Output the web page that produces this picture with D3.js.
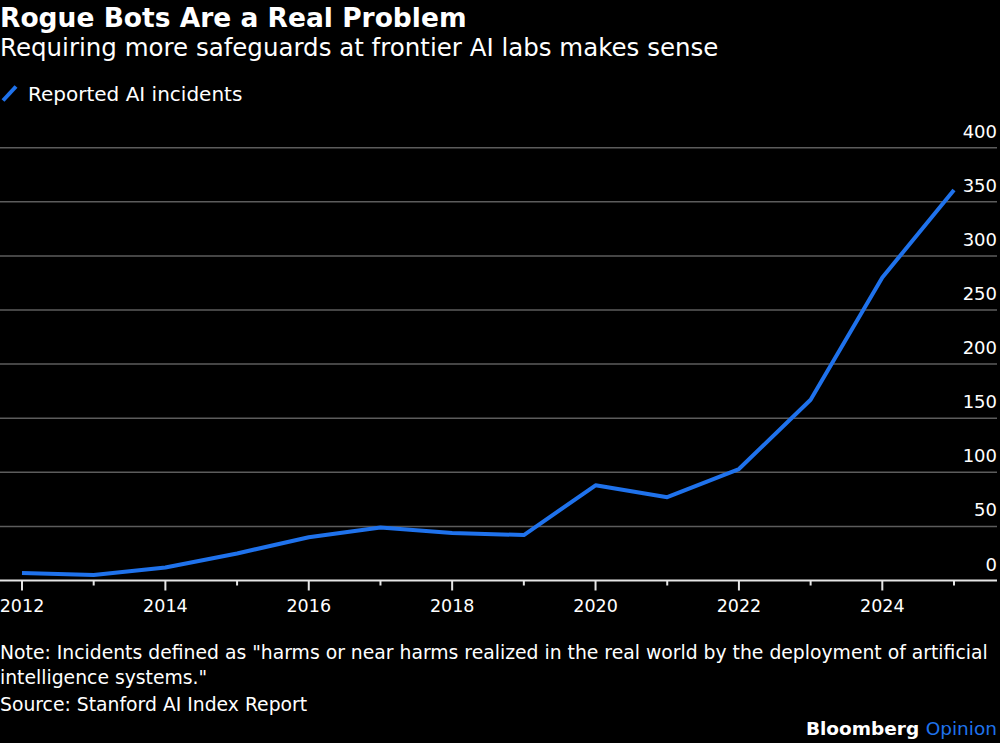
<!DOCTYPE html>
<html>
<head>
<meta charset="utf-8">
<script src="https://cdn.jsdelivr.net/npm/d3@7"></script>
<style>
  html, body { margin: 0; padding: 0; background: #000; }
  svg { display: block; }
  text { font-family: "DejaVu Sans", "Noto Sans", sans-serif; fill: #fff; }
</style>
</head>
<body>
<div id="chart"></div>
<script>
// values
var years = [2012, 2013, 2014, 2015, 2016, 2017, 2018, 2019, 2020, 2021, 2022, 2023, 2024, 2025];
var incidents = [7, 5, 12, 25, 40, 49, 44, 42, 88, 77, 103, 167, 280, 361];
var yTicks = [0, 50, 100, 150, 200, 250, 300, 350, 400];
var xLabelYears = [2012, 2014, 2016, 2018, 2020, 2022, 2024];

var width = 1000, height = 743;
var blue = "#1f72ec";

var svg = d3.select("#chart")
  .append("svg")
  .attr("width", width)
  .attr("height", height);

// scales
var x = d3.scaleLinear()
  .domain([2012, 2025])
  .range([22, 954]);

var y = d3.scaleLinear()
  .domain([0, 400])
  .range([580.5, 147.7]);

var plotRight = 997;

// header
svg.append("text")
  .attr("x", 0).attr("y", 26.5)
  .style("font-size", "26.5px").style("font-weight", "700")
  .text("Rogue Bots Are a Real Problem");

svg.append("text")
  .attr("x", 0).attr("y", 56)
  .style("font-size", "24.5px")
  .text("Requiring more safeguards at frontier AI labs makes sense");

// legend
svg.append("line")
  .attr("x1", 3).attr("y1", 100.5)
  .attr("x2", 16).attr("y2", 86.5)
  .attr("stroke", blue).attr("stroke-width", 4);

svg.append("text")
  .attr("x", 28).attr("y", 101)
  .style("font-size", "20px")
  .text("Reported AI incidents");

// grid lines + y labels
var grid = svg.append("g");
grid.selectAll("line")
  .data(yTicks.filter(function (d) { return d > 0; }))
  .enter().append("line")
  .attr("x1", 0).attr("x2", plotRight)
  .attr("y1", function (d) { return y(d); })
  .attr("y2", function (d) { return y(d); })
  .attr("stroke", "#5c5c5c")
  .attr("stroke-width", 1.5);

grid.selectAll("text")
  .data(yTicks)
  .enter().append("text")
  .attr("x", plotRight)
  .attr("y", function (d) { return y(d) - 10; })
  .attr("text-anchor", "end")
  .style("font-size", "18px")
  .text(function (d) { return d; });

// x axis
var xAxis = svg.append("g")
  .attr("transform", "translate(0," + y(0) + ")");

xAxis.append("line")
  .attr("x1", 0).attr("x2", plotRight)
  .attr("stroke", "#e6e6e6").attr("stroke-width", 2);

xAxis.selectAll(".tick")
  .data(years)
  .enter().append("line")
  .attr("class", "tick")
  .attr("x1", function (d) { return x(d); })
  .attr("x2", function (d) { return x(d); })
  .attr("y1", 0)
  .attr("y2", function (d) { return xLabelYears.indexOf(d) >= 0 ? 10 : 5; })
  .attr("stroke", "#e6e6e6").attr("stroke-width", 2);

xAxis.selectAll("text")
  .data(xLabelYears)
  .enter().append("text")
  .attr("x", function (d) { return x(d); })
  .attr("y", 31)
  .attr("text-anchor", "middle")
  .style("font-size", "17.5px")
  .text(function (d) { return d; });

// the line
var data = years.map(function (yr, i) { return { year: yr, value: incidents[i] }; });

svg.append("path")
  .datum(data)
  .attr("fill", "none")
  .attr("stroke", blue)
  .attr("stroke-width", 4)
  .attr("stroke-linejoin", "round")
  .attr("d", d3.line()
    .x(function (d) { return x(d.year); })
    .y(function (d) { return y(d.value); })
  );

// footer
var foot = svg.append("g").style("font-size", "18.8px");
foot.append("text").attr("x", 0).attr("y", 659)
  .text("Note: Incidents defined as \"harms or near harms realized in the real world by the deployment of artificial");
foot.append("text").attr("x", 0).attr("y", 684)
  .text("intelligence systems.\"");
foot.append("text").attr("x", 0).attr("y", 711)
  .text("Source: Stanford AI Index Report");

var brand = svg.append("text")
  .attr("x", plotRight).attr("y", 735)
  .attr("text-anchor", "end")
  .style("font-size", "18.5px");
brand.append("tspan").style("font-weight", "700").text("Bloomberg ");
brand.append("tspan").style("fill", blue).text("Opinion");
</script>
</body>
</html>
